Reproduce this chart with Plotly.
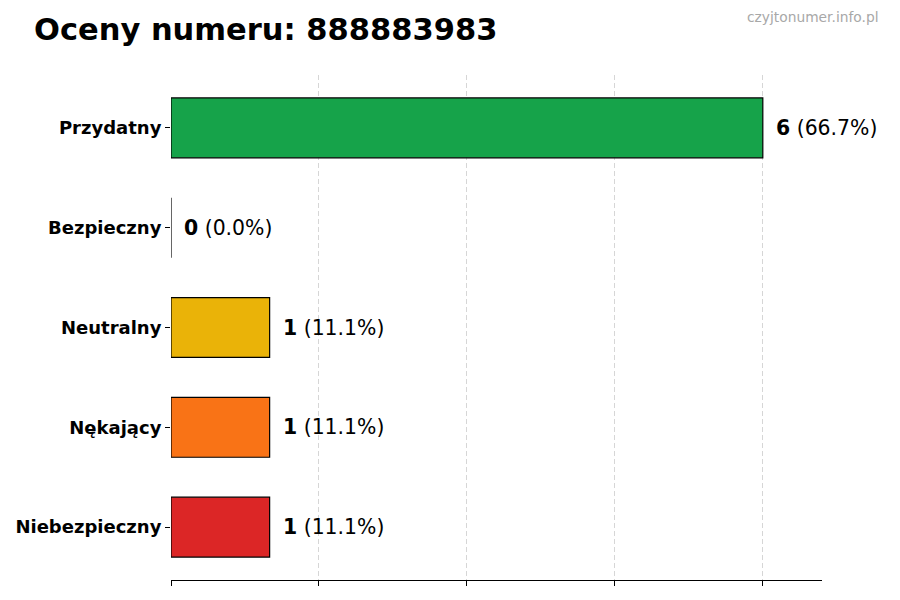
import plotly.graph_objects as go

# ratings for the phone number, top to bottom
categories = ["Przydatny", "Bezpieczny", "Neutralny", "Nękający", "Niebezpieczny"]
counts = [6, 0, 1, 1, 1]
colors = ["#16a34a", "#9ca3af", "#eab308", "#f97316", "#dc2626"]
grid_ticks = [0, 1.5, 3, 4.5, 6]

total = sum(counts)
FONT = "DejaVu Sans"

fig = go.Figure()
fig.add_trace(
    go.Bar(
        x=counts,
        y=categories,
        orientation="h",
        width=0.6,
        marker=dict(color=colors, line=dict(color="black", width=1.2)),
        hoverinfo="skip",
    )
)

# value labels to the right of each bar
for cat, n in zip(categories, counts):
    pct = 100 * n / total if total else 0
    fig.add_annotation(
        x=n,
        y=cat,
        text=f"<b>{n}</b> ({pct:.1f}%)",
        showarrow=False,
        xanchor="left",
        xshift=11,
        font=dict(family=FONT, size=20.4, color="black"),
    )

# watermark
fig.add_annotation(
    xref="paper",
    yref="paper",
    x=1.0906,
    y=1.115,
    text="czyjtonumer.info.pl",
    showarrow=False,
    xanchor="right",
    yanchor="middle",
    font=dict(family=FONT, size=13.8, color="#a8a8a8"),
)

# the page body adds 8px, so margins are shifted by that much
fig.update_layout(
    width=900,
    height=600,
    plot_bgcolor="white",
    paper_bgcolor="white",
    showlegend=False,
    margin=dict(l=163, r=86, t=67, b=28),
    title=dict(
        text="<b>Oceny numeru: 888883983</b>",
        x=26 / 900,
        xref="container",
        xanchor="left",
        y=1 - 21 / 600,
        yref="container",
        yanchor="middle",
        font=dict(family=FONT, size=30.5, color="black"),
    ),
)
fig.update_xaxes(
    range=[0, 6.6],
    tickvals=grid_ticks,
    showticklabels=False,
    ticks="outside",
    ticklen=5,
    tickcolor="black",
    showline=True,
    linecolor="black",
    linewidth=1,
    showgrid=True,
    gridcolor="rgba(0,0,0,0.16)",
    griddash="5px,3px",
    gridwidth=1,
    zeroline=False,
    layer="above traces",
    fixedrange=True,
)
fig.update_yaxes(
    range=[4.53, -0.53],
    ticks="outside",
    ticklen=5,
    tickcolor="black",
    showline=False,
    showgrid=False,
    automargin=False,
    tickfont=dict(family=FONT, size=18, color="black", weight="bold"),
    fixedrange=True,
)

fig.write_html("out.html")
